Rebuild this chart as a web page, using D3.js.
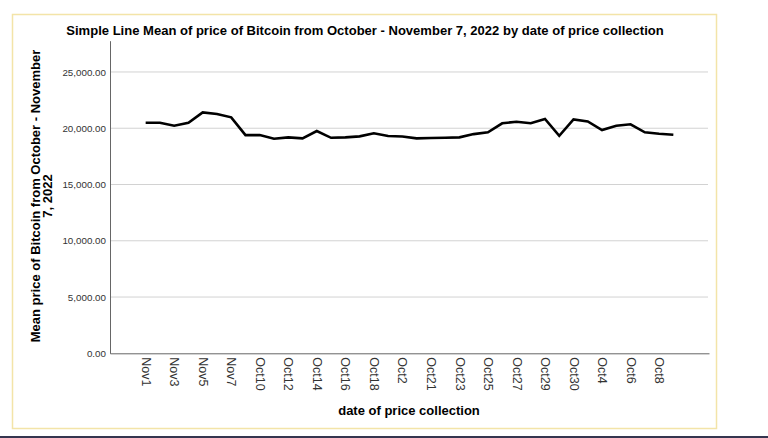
<!DOCTYPE html>
<html><head><meta charset="utf-8">
<script src="https://cdn.jsdelivr.net/npm/d3@7"></script>
<style>
html,body{margin:0;padding:0;background:#fff;}
svg{display:block;font-family:"Liberation Sans",Arial,sans-serif;}
</style></head>
<body>
<svg id="c" width="768" height="438"></svg>
<script>
const categories = ["Nov1","Nov2","Nov3","Nov4","Nov5","Nov6","Nov7","Oct1","Oct10","Oct11","Oct12","Oct13","Oct14","Oct15","Oct16","Oct17","Oct18","Oct19","Oct2","Oct20","Oct21","Oct22","Oct23","Oct24","Oct25","Oct26","Oct27","Oct28","Oct29","Oct3","Oct30","Oct31","Oct4","Oct5","Oct6","Oct7","Oct8","Oct9"];
const meanPrice = [20490,20490,20220,20490,21410,21260,20970,19390,19390,19070,19190,19100,19750,19150,19190,19280,19550,19310,19260,19100,19130,19150,19190,19480,19640,20440,20580,20440,20820,19330,20790,20610,19840,20220,20350,19640,19510,19420];
const yTicks = [0,5000,10000,15000,20000,25000];
const title = "Simple Line Mean of price of Bitcoin from October - November 7, 2022 by date of price collection";
const yTitle = ["Mean price of Bitcoin from October - November","7, 2022"];
const xTitle = "date of price collection";

const svg = d3.select("#c");
// outer frame
svg.append("rect").attr("x",12.5).attr("y",14.5).attr("width",704).attr("height",414)
  .attr("fill","#fff").attr("stroke","#f3e4a8").attr("stroke-width",1.5);
svg.append("rect").attr("x",0).attr("y",436).attr("width",768).attr("height",2).attr("fill","#35354f");

const x = d3.scalePoint().domain(categories).range([110,709]).padding(2.5);
const y = d3.scaleLinear().domain([0,27780]).range([353.3,40.7]);

// gridlines
svg.append("g").selectAll("line").data(yTicks.filter(d=>d>0)).join("line")
  .attr("x1",110).attr("x2",708).attr("y1",d=>y(d)).attr("y2",d=>y(d))
  .attr("stroke","#d2d2d2").attr("stroke-width",1);

// y axis
const yAxis = svg.append("g").attr("transform","translate(110,0)")
  .call(d3.axisLeft(y).tickValues(yTicks).tickSize(0).tickPadding(4).tickFormat(d3.format(",.2f")));
yAxis.select(".domain").attr("stroke","#666");
yAxis.selectAll("text").attr("font-size",9.8).attr("fill","#333").attr("font-family","Liberation Sans, Arial, sans-serif");

// x axis
const xAxis = svg.append("g").attr("transform","translate(0,353.3)")
  .call(d3.axisBottom(x).tickValues(categories.filter((d,i)=>i%2===0)).tickSize(0));
xAxis.select(".domain").attr("stroke","#666");
xAxis.selectAll("text").attr("font-size",12.5).attr("fill","#333")
  .attr("font-family","Liberation Sans, Arial, sans-serif")
  .attr("text-anchor","start").attr("dy","0.35em")
  .attr("transform","rotate(90) translate(4,0)").attr("x",0).attr("y",0);

// line
svg.append("path").datum(meanPrice)
  .attr("fill","none").attr("stroke","#000").attr("stroke-width",2.6).attr("stroke-linejoin","miter")
  .attr("d", d3.line().x((d,i)=>x(categories[i])).y(d=>y(d)));

// title
const t = svg.append("text").attr("x",365).attr("y",35).attr("text-anchor","middle")
  .attr("font-size",13).attr("font-weight","bold").attr("fill","#000").text(title);
const tw = t.node().getComputedTextLength();
t.attr("font-size", 13*598/tw);

// y title
const yt = svg.append("text").attr("transform","translate(40,196) rotate(-90)")
  .attr("text-anchor","middle").attr("font-size",13).attr("font-weight","bold").attr("fill","#000");
yt.append("tspan").attr("x",0).attr("y",0).text(yTitle[0]);
yt.append("tspan").attr("x",0).attr("y",12).text(yTitle[1]);

// x title
svg.append("text").attr("x",409).attr("y",415).attr("text-anchor","middle")
  .attr("font-size",13).attr("font-weight","bold").attr("fill","#000").text(xTitle);
</script>
</body></html>
